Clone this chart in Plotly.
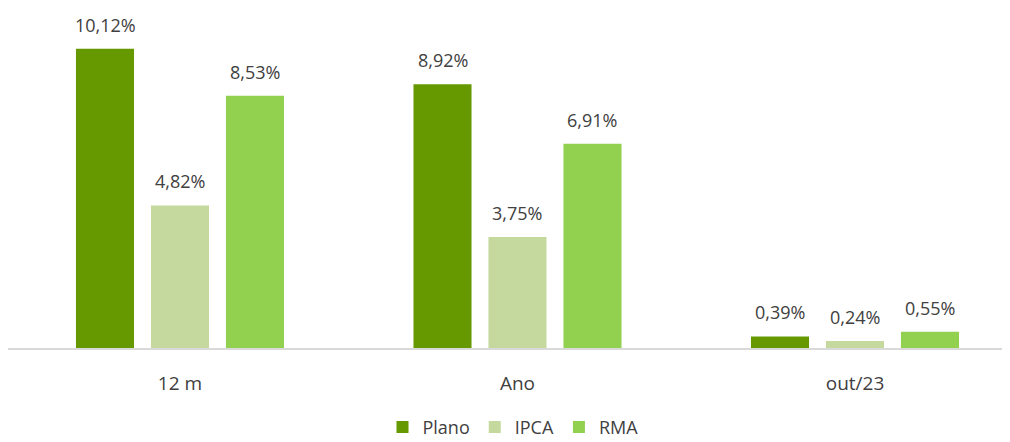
import plotly.graph_objects as go

categories = ["12 m", "Ano", "out/23"]
series_names = ["Plano", "IPCA", "RMA"]
plano = [10.12, 8.92, 0.39]
ipca = [4.82, 3.75, 0.24]
rma = [8.53, 6.91, 0.55]
colors = ["#669900", "#C5D99E", "#92D050"]

values = [plano, ipca, rma]
offsets = [-0.2222, 0.0, 0.2222]
bar_w = 0.172
font_fam = "Open Sans, Liberation Sans, sans-serif"

fig = go.Figure()
annotations = []
for name, vals, col, off in zip(series_names, values, colors, offsets):
    xs = [i + off for i in range(len(categories))]
    fig.add_trace(go.Bar(
        x=xs, y=vals, name=name, width=bar_w,
        marker=dict(color=col, line=dict(width=0)),
    ))
    for x, v in zip(xs, vals):
        annotations.append(dict(
            x=x, y=v, xref="x", yref="y", text=f"{v:.2f}%".replace(".", ","),
            showarrow=False, yanchor="bottom", yshift=10,
            font=dict(family=font_fam, size=18, color="#404040"),
        ))

fig.update_layout(
    width=1010, height=442,
    margin=dict(l=0, r=0, t=10, b=102, autoexpand=False),
    paper_bgcolor="white", plot_bgcolor="white",
    annotations=annotations,
    showlegend=True,
    legend=dict(orientation="h", x=0.5, xanchor="center", y=-0.24, yanchor="middle",
                font=dict(family=font_fam, size=18, color="#404040"),
                itemwidth=30, tracegroupgap=0),
    font=dict(family=font_fam, color="#404040"),
)
fig.update_xaxes(
    range=[-0.5096, 2.483], tickvals=list(range(len(categories))), ticktext=categories,
    showgrid=False, zeroline=False, showline=True, linecolor="#D9D9D9", linewidth=2,
    ticks="", ticklabelstandoff=17, tickfont=dict(family=font_fam, size=19, color="#404040"),
)
fig.update_yaxes(range=[0, 11.16], visible=False, showgrid=False, zeroline=False)

fig.write_html("out.html")
